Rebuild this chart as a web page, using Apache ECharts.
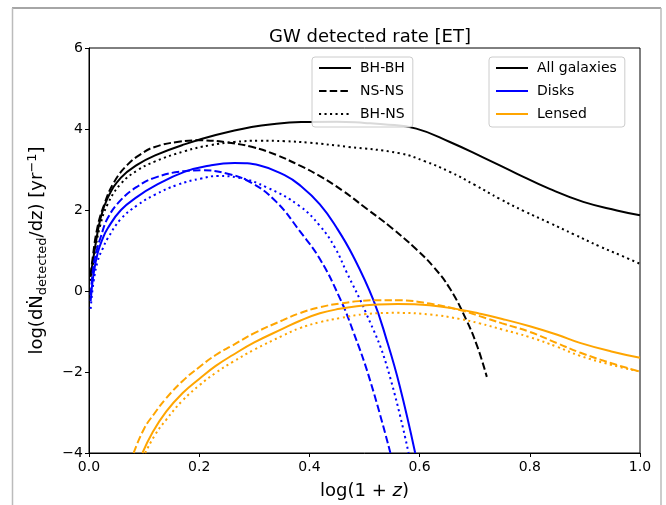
<!DOCTYPE html>
<html>
<head>
<meta charset="utf-8">
<script src="https://cdn.jsdelivr.net/npm/echarts@6/dist/echarts.min.js"></script>
<style>html,body{margin:0;padding:0;background:#fff;}#c{width:666px;height:505px;}</style>
</head>
<body>
<div id="c"></div>
<script>
// ---- data ----
const chartTitle = 'GW detected rate [ET]';
const typeNames = ['BH-BH', 'NS-NS', 'BH-NS'];
const sampleNames = ['All galaxies', 'Disks', 'Lensed'];

// All galaxies
const allBHBH_x = [0.003,0.0095,0.021,0.034,0.058,0.088,0.120,0.173,0.230,0.295,0.340,0.385,0.450,0.500,0.534,0.594,0.655,0.715,0.776,0.836,0.897,0.958,1.000];
const allBHBH_y = [0.35,0.95,1.80,2.30,2.80,3.12,3.35,3.62,3.85,4.05,4.13,4.17,4.18,4.15,4.12,4.01,3.68,3.30,2.90,2.52,2.20,1.99,1.87];
const allNSNS_x = [0.003,0.006,0.015,0.028,0.046,0.070,0.094,0.118,0.160,0.204,0.250,0.295,0.340,0.382,0.416,0.460,0.504,0.550,0.594,0.625,0.655,0.685,0.705,0.722];
const allNSNS_y = [0.40,0.75,1.55,2.15,2.70,3.12,3.38,3.55,3.68,3.72,3.67,3.56,3.36,3.10,2.86,2.48,2.03,1.55,1.03,0.60,0.06,-0.72,-1.38,-2.12];
const allBHNS_x = [0.003,0.010,0.020,0.034,0.058,0.088,0.120,0.173,0.220,0.264,0.310,0.355,0.400,0.470,0.564,0.610,0.655,0.700,0.746,0.790,0.836,0.880,0.927,0.965,1.000];
const allBHNS_y = [0.25,0.90,1.60,2.15,2.65,2.98,3.20,3.45,3.60,3.68,3.71,3.70,3.66,3.56,3.40,3.20,2.94,2.62,2.27,1.97,1.68,1.40,1.10,0.88,0.67];

// Disks
const diskBHBH_x = [0.003,0.008,0.016,0.025,0.034,0.058,0.088,0.120,0.173,0.220,0.264,0.310,0.355,0.382,0.419,0.450,0.479,0.516,0.540,0.564,0.592];
const diskBHBH_y = [-0.25,0.40,0.95,1.30,1.55,2.00,2.33,2.60,2.94,3.10,3.16,3.10,2.86,2.62,2.14,1.55,0.87,-0.22,-1.20,-2.35,-4.00];
const diskNSNS_x = [0.003,0.008,0.014,0.021,0.034,0.058,0.088,0.120,0.173,0.204,0.250,0.295,0.340,0.383,0.419,0.455,0.479,0.510,0.547];
const diskNSNS_y = [-0.10,0.60,1.00,1.32,1.80,2.25,2.58,2.80,2.96,2.98,2.90,2.67,2.20,1.47,0.79,-0.17,-0.98,-2.20,-4.00];
const diskBHNS_x = [0.003,0.008,0.016,0.025,0.034,0.058,0.088,0.120,0.160,0.204,0.234,0.270,0.324,0.382,0.419,0.446,0.467,0.503,0.540,0.580];
const diskBHNS_y = [-0.44,0.20,0.75,1.05,1.30,1.78,2.12,2.38,2.62,2.78,2.84,2.80,2.55,2.10,1.61,1.08,0.48,-0.55,-1.83,-4.00];

// Lensed
const lensBHBH_x = [0.097,0.115,0.140,0.170,0.201,0.230,0.261,0.300,0.352,0.382,0.419,0.455,0.490,0.516,0.560,0.618,0.673,0.709,0.750,0.800,0.850,0.891,0.950,1.000];
const lensBHBH_y = [-4.00,-3.50,-2.98,-2.52,-2.16,-1.85,-1.58,-1.27,-0.93,-0.74,-0.55,-0.44,-0.37,-0.34,-0.32,-0.35,-0.46,-0.56,-0.69,-0.87,-1.08,-1.28,-1.50,-1.65];
const lensNSNS_x = [0.081,0.100,0.120,0.140,0.170,0.201,0.230,0.261,0.300,0.352,0.382,0.419,0.455,0.490,0.520,0.560,0.618,0.673,0.709,0.750,0.800,0.850,0.891,0.950,1.000];
const lensNSNS_y = [-4.00,-3.40,-3.00,-2.65,-2.22,-1.87,-1.58,-1.34,-1.04,-0.72,-0.55,-0.40,-0.31,-0.25,-0.23,-0.23,-0.31,-0.47,-0.62,-0.80,-1.01,-1.29,-1.52,-1.79,-1.99];
const lensBHNS_x = [0.102,0.120,0.140,0.170,0.201,0.230,0.261,0.300,0.352,0.382,0.419,0.455,0.503,0.560,0.618,0.673,0.709,0.750,0.800,0.850,0.891,0.950,1.000];
const lensBHNS_y = [-4.00,-3.55,-3.18,-2.70,-2.32,-2.02,-1.75,-1.45,-1.10,-0.92,-0.77,-0.67,-0.57,-0.54,-0.58,-0.69,-0.80,-0.95,-1.14,-1.38,-1.60,-1.83,-1.99];

// ---- build chart ----
const FONT = 'DejaVu Sans';
const colors = {'All galaxies':'#000000','Disks':'#0000ff','Lensed':'#ffa500'};
const dashes = {'BH-BH':'solid','NS-NS':[7.5,3.2],'BH-NS':[2.1,3.4]};
function pairs(xs, ys){ return xs.map((x,i)=>[x, ys[i]]); }

const curves = [
  ['All galaxies','BH-BH',allBHBH_x,allBHBH_y],
  ['All galaxies','NS-NS',allNSNS_x,allNSNS_y],
  ['All galaxies','BH-NS',allBHNS_x,allBHNS_y],
  ['Disks','BH-BH',diskBHBH_x,diskBHBH_y],
  ['Disks','NS-NS',diskNSNS_x,diskNSNS_y],
  ['Disks','BH-NS',diskBHNS_x,diskBHNS_y],
  ['Lensed','BH-BH',lensBHBH_x,lensBHBH_y],
  ['Lensed','NS-NS',lensNSNS_x,lensNSNS_y],
  ['Lensed','BH-NS',lensBHNS_x,lensBHNS_y]
];

const series = curves.map(c => ({
  name: c[0] + ' ' + c[1],
  type: 'line',
  data: pairs(c[2], c[3]),
  smooth: 0.45,
  symbol: 'none',
  clip: true,
  silent: true,
  lineStyle: {color: colors[c[0]], width: 2, type: dashes[c[1]]},
  itemStyle: {color: colors[c[0]]},
  z: 2
}));
typeNames.forEach(t => series.push({name: t, type:'line', data:[], symbol:'none', showSymbol:false,
  lineStyle:{color:'#000', width:2, type: dashes[t]}, itemStyle:{color:'#000'}}));
sampleNames.forEach(s => series.push({name: s, type:'line', data:[], symbol:'none', showSymbol:false,
  lineStyle:{color: colors[s], width:2, type:'solid'}, itemStyle:{color: colors[s]}}));

const legendCommon = {
  orient: 'vertical', top: 57, itemWidth: 32, itemHeight: 14, itemGap: 9,
  padding: [4, 8, 6, 6], backgroundColor: 'rgba(255,255,255,0.85)',
  borderColor: '#cccccc', borderWidth: 1, borderRadius: 3,
  itemStyle: {opacity: 0},
  textStyle: {fontFamily: FONT, fontSize: 14, color: '#000', padding:[0,0,0,4]},
  selectedMode: false, z: 10
};

const chart = echarts.init(document.getElementById('c'), null, {renderer: 'canvas'});
chart.setOption({
  animation: false,
  backgroundColor: '#fff',
  title: {text: chartTitle, left: 365, top: 23, textAlign: 'center',
    textStyle: {fontFamily: FONT, fontSize: 18, fontWeight: 'normal', color: '#000'}},
  grid: {left: 89, right: 26, top: 48, bottom: 50, show: true, borderColor: '#000', borderWidth: 1, containLabel: false},
  xAxis: {type: 'value', min: 0, max: 1, interval: 0.2,
    name: '{a|log(1 + }{i|z}{a|)}', nameLocation: 'middle', nameGap: 29,
    nameTextStyle: {rich: {a: {fontFamily: FONT, fontSize: 18, color:'#000'}, i: {fontFamily: FONT, fontSize: 18, fontStyle: 'italic', color:'#000'}}},
    axisLine: {show: true, onZero: false, lineStyle: {color: '#000', width: 1}},
    axisTick: {show: true, length: 4, inside: false, lineStyle: {color: '#000'}},
    axisLabel: {fontFamily: FONT, fontSize: 14, color: '#000', margin: 7, formatter: v => v.toFixed(1)},
    splitLine: {show: false}},
  yAxis: {type: 'value', min: -4, max: 6, interval: 2,
    name: '{a|log(d}{n|Ṅ}{s|detected}{a|/dz) [yr}{p|−1}{a|]}', nameLocation: 'middle', nameGap: 40, nameRotate: 90,
    nameTextStyle: {rich: {
      a: {fontFamily: FONT, fontSize: 18, color:'#000'},
      n: {fontFamily: FONT, fontSize: 18, color:'#000'},
      s: {fontFamily: FONT, fontSize: 13, color:'#000', padding:[10,0,0,0]},
      p: {fontFamily: FONT, fontSize: 13, color:'#000', padding:[0,0,10,0]}
    }},
    axisLine: {show: true, onZero: false, lineStyle: {color: '#000', width: 1}},
    axisTick: {show: true, length: 4, inside: false, lineStyle: {color: '#000'}},
    axisLabel: {fontFamily: FONT, fontSize: 14, color: '#000', margin: 6, formatter: v => v < 0 ? '\u2212' + Math.abs(v) : String(v)},
    splitLine: {show: false}},
  legend: [
    Object.assign({}, legendCommon, {left: 312, data: typeNames}),
    Object.assign({}, legendCommon, {left: 489, data: sampleNames})
  ],
  graphic: [
    {type: 'line', shape: {x1: 12, y1: 8, x2: 661, y2: 8}, style: {stroke: '#888', lineWidth: 1.5}, silent: true},
    {type: 'line', shape: {x1: 12.5, y1: 8, x2: 12.5, y2: 505}, style: {stroke: '#bbb', lineWidth: 1.5}, silent: true},
    {type: 'line', shape: {x1: 661, y1: 8, x2: 661, y2: 505}, style: {stroke: '#bbb', lineWidth: 1.5}, silent: true}
  ],
  series: series
});
</script>
</body>
</html>
